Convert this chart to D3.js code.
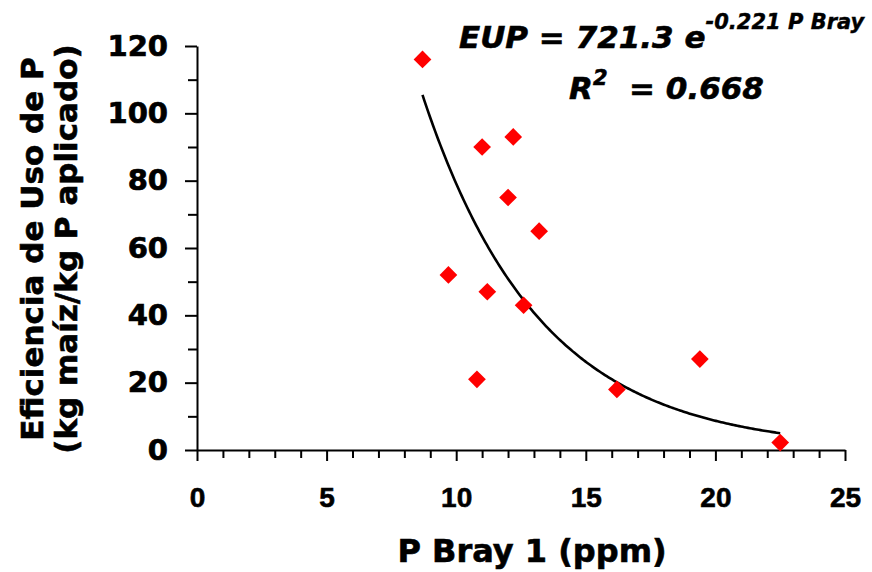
<!DOCTYPE html>
<html>
<head>
<meta charset="utf-8">
<script src="https://cdn.jsdelivr.net/npm/d3@7"></script>
<style>
  html, body { margin: 0; padding: 0; background: #fff; }
  svg { display: block; }
</style>
</head>
<body>
<svg id="chart" width="872" height="572"></svg>
<script>
// P Bray 1 (ppm) for each site
const pBray = [8.7, 11.0, 12.2, 12.0, 13.2, 9.7, 11.2, 12.6, 10.8, 16.2, 19.4, 22.5];
// Phosphorus use efficiency (kg maize / kg P applied)
const eup = [116, 90, 93, 75, 65, 52, 47, 43, 21, 18, 27, 2.2];

// Fitted exponential model: EUP = a * e^(b * P Bray)
const fitA = 721.3;
const fitB = -0.221;
const r2 = 0.668;

const xTicks = [0, 5, 10, 15, 20, 25];
const yTicks = [0, 20, 40, 60, 80, 100, 120];

const svg = d3.select("#chart");

const x = d3.scaleLinear().domain([0, 25]).range([197, 845]);
const y = d3.scaleLinear().domain([0, 120]).range([450, 46]);

// minor ticks
const xMinor = d3.range(0, 26, 1).filter(v => v % 5 !== 0);
const yMinor = d3.range(10, 120, 20);

svg.append("g")
  .attr("transform", `translate(0,${y(0)})`)
  .call(d3.axisBottom(x).tickValues(xMinor).tickSize(8).tickSizeOuter(0).tickFormat(""))
  .call(g => g.select(".domain").remove())
  .call(g => g.selectAll("line").attr("stroke", "#000").attr("stroke-width", 2));

svg.append("g")
  .attr("transform", `translate(${x(0)},0)`)
  .call(d3.axisLeft(y).tickValues(yMinor).tickSize(9).tickSizeOuter(0).tickFormat(""))
  .call(g => g.select(".domain").remove())
  .call(g => g.selectAll("line").attr("stroke", "#000").attr("stroke-width", 2));

// major x axis
svg.append("g")
  .attr("transform", `translate(0,${y(0)})`)
  .call(d3.axisBottom(x).tickValues(xTicks).tickSize(11).tickSizeOuter(0).tickPadding(26).tickFormat(d3.format("d")))
  .call(g => g.select(".domain").attr("stroke", "#000").attr("stroke-width", 2))
  .call(g => g.selectAll("line").attr("stroke", "#000").attr("stroke-width", 2))
  .call(g => g.selectAll("text")
    .attr("fill", "#000")
    .attr("stroke", "#000")
    .attr("stroke-width", 0.6)
    .style("font-family", "'Liberation Sans', Arial, sans-serif")
    .style("font-weight", "bold")
    .style("font-size", "28px"));

// major y axis
svg.append("g")
  .attr("transform", `translate(${x(0)},0)`)
  .call(d3.axisLeft(y).tickValues(yTicks).tickSize(12).tickSizeOuter(0).tickPadding(17).tickFormat(d3.format("d")))
  .call(g => g.select(".domain").attr("stroke", "#000").attr("stroke-width", 2))
  .call(g => g.selectAll("line").attr("stroke", "#000").attr("stroke-width", 2))
  .call(g => g.selectAll("text")
    .attr("fill", "#000")
    .attr("stroke", "#000")
    .attr("stroke-width", 0.7)
    .style("font-family", "'DejaVu Sans', Verdana, sans-serif")
    .style("font-weight", "bold")
    .style("font-size", "29px"));

// fitted curve over the observed P Bray range
const [xMin, xMax] = d3.extent(pBray);
const curveX = d3.range(xMin, xMax + 1e-9, (xMax - xMin) / 200);
const line = d3.line()
  .x(d => x(d))
  .y(d => y(fitA * Math.exp(fitB * d)));
svg.append("path")
  .datum(curveX)
  .attr("d", line)
  .attr("fill", "none")
  .attr("stroke", "#000")
  .attr("stroke-width", 2.6);

// observations as red diamonds
const diamond = d3.symbol().type(d3.symbolDiamond2).size(200);
svg.append("g")
  .selectAll("path")
  .data(pBray.map((p, i) => ({ p, e: eup[i] })))
  .join("path")
  .attr("d", diamond)
  .attr("transform", d => `translate(${x(d.p)},${y(d.e)})`)
  .attr("fill", "#ff0000");

// axis titles
const titleFont = "'DejaVu Sans', Verdana, sans-serif";
svg.append("text")
  .attr("x", 532)
  .attr("y", 562)
  .attr("text-anchor", "middle")
  .attr("stroke", "#000")
  .attr("stroke-width", 0.6)
  .style("font-family", titleFont)
  .style("font-weight", "bold")
  .style("font-size", "32px")
  .text("P Bray 1 (ppm)");

const yTitle = svg.append("text")
  .attr("transform", "translate(0,249) rotate(-90)")
  .attr("text-anchor", "middle")
  .attr("stroke", "#000")
  .attr("stroke-width", 0.6)
  .style("font-family", titleFont)
  .style("font-weight", "bold")
  .style("font-size", "31px");
yTitle.append("tspan").attr("x", 0).attr("y", 43).text("Eficiencia de Uso de P");
yTitle.append("tspan").attr("x", 0).attr("y", 77).text("(kg maíz/kg P aplicado)");

// equation and R²
const eq = svg.append("text")
  .attr("x", 459)
  .attr("y", 48)
  .attr("stroke", "#000")
  .attr("stroke-width", 0.6)
  .style("font-family", titleFont)
  .style("font-weight", "bold")
  .style("font-style", "italic")
  .style("font-size", "31px");
eq.append("tspan").text(`EUP = ${fitA} e`);
eq.append("tspan").attr("dy", -19).attr("stroke-width", 0.4).style("font-size", "21px").text(`${fitB} P Bray`);

const rt = svg.append("text")
  .attr("x", 569)
  .attr("y", 99)
  .attr("stroke", "#000")
  .attr("stroke-width", 0.6)
  .style("font-family", titleFont)
  .style("font-weight", "bold")
  .style("font-style", "italic")
  .style("font-size", "31px");
rt.append("tspan").text("R");
rt.append("tspan").attr("dy", -14).style("font-size", "21px").text("2");
rt.append("tspan").attr("dy", 14).attr("xml:space", "preserve").style("white-space", "pre").text("  = " + r2);
</script>
</body>
</html>
